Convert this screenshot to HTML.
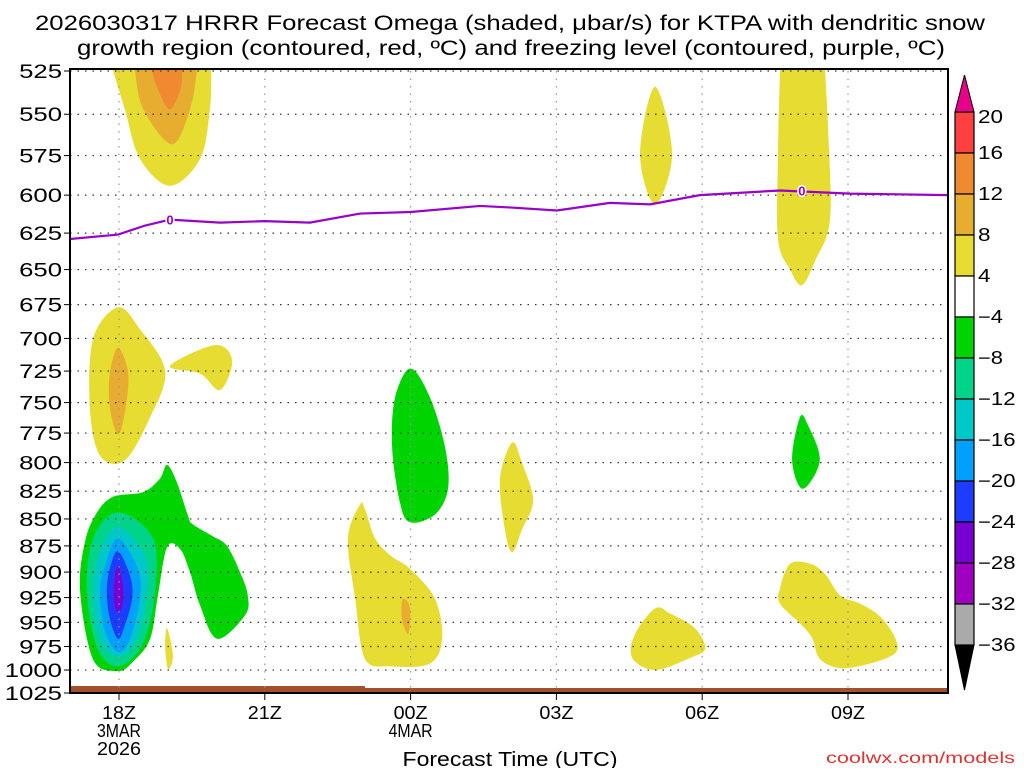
<!DOCTYPE html>
<html><head><meta charset="utf-8"><style>
html,body{margin:0;padding:0;background:#fff;}
svg text{font-family:"Liberation Sans",sans-serif;}
</style></head><body>
<svg id="chart" width="1024" height="768" xmlns="http://www.w3.org/2000/svg">
<text x="510" y="30" font-size="21" text-anchor="middle" textLength="950" lengthAdjust="spacingAndGlyphs" fill="#000">2026030317 HRRR Forecast Omega (shaded, μbar/s) for KTPA with dendritic snow</text>
<text x="511" y="55" font-size="21" text-anchor="middle" textLength="868" lengthAdjust="spacingAndGlyphs" fill="#000">growth region (contoured, red, ºC) and freezing level (contoured, purple, ºC)</text>
<defs><clipPath id="plotclip"><rect x="70" y="69" width="878" height="624"/></clipPath></defs>
<g id="fills" clip-path="url(#plotclip)"></g>
<g id="grid"></g>
<g id="fz" clip-path="url(#plotclip)"></g>
<rect x="70" y="69" width="878" height="624" fill="none" stroke="#000" stroke-width="2"/>
<g id="axes"></g>
<g id="cbar"></g>
<text x="510" y="766" font-size="20" text-anchor="middle" textLength="215" lengthAdjust="spacingAndGlyphs">Forecast Time (UTC)</text>
<text x="1015" y="763" font-size="16" text-anchor="end" textLength="189" lengthAdjust="spacingAndGlyphs" fill="#e03030">coolwx.com/models</text>
</svg>
<script>
const pLevels=[525,550,575,600,625,650,675,700,725,750,775,800,825,850,875,900,925,950,975,1000,1025];
const xTickHours=[18,21,24,27,30,33];
const xTickLabels=["18Z","21Z","00Z","03Z","06Z","09Z"];
const cbLevels=[20,16,12,8,4,-4,-8,-12,-16,-20,-24,-28,-32,-36];
const cbColors=["#ff4040","#f08a30","#e6ad30","#e6dc32","#ffffff","#00d400","#00d48a","#00c8c8","#00a0ff","#1e3cff","#7800d2","#a000c0","#aaaaaa"];
const freezeHours=[16.99,17.98,18.53,19.05,20.08,21.0,21.93,22.96,24.0,25.43,26.04,27.01,28.1,28.93,29.95,31.6,33.04,35.06];
const freezeP=[629,626,620,616,618,617,618,612,611,607,608,610,605,606,600,597,599,600];
const blobs=[
{c:"#e6dc32",pts:[[17.8,515],[17.88,525],[18.12,547],[18.43,577],[19.05,594],[19.67,577],[19.87,547],[19.9,525],[19.9,515]]},
{c:"#e6ad30",pts:[[18.3,515],[18.33,525],[18.5,547],[19.09,568],[19.46,547],[19.6,525],[19.6,515]]},
{c:"#f08a30",pts:[[18.64,515],[18.68,525],[18.84,538],[19.05,547],[19.26,536],[19.3,525],[19.3,515]]},
{c:"#e6dc32",pts:[[29.03,534],[28.72,574],[29.03,606],[29.38,574]]},
{c:"#e6dc32",pts:[[31.6,515],[31.6,525],[31.56,573],[31.56,629],[31.81,650],[32.05,661],[32.32,644],[32.63,616],[32.59,559],[32.53,525],[32.53,515]]},
{c:"#e6dc32",pts:[[17.4,754],[17.47,700],[17.98,677],[18.43,693],[18.95,725],[18.64,762],[18.12,798],[17.61,794]]},
{c:"#e6ad30",pts:[[17.81,727],[17.98,707],[18.19,727],[18.12,758],[17.98,776],[17.81,754]]},
{c:"#e6dc32",pts:[[19.05,721],[19.98,705],[20.33,717],[20.08,740],[19.67,727]]},
{c:"#00d400",pts:[[17.98,1001],[17.47,989],[17.2,919],[17.3,871],[17.55,844],[17.88,830],[18.49,826],[18.84,814],[18.99,802],[19.19,817],[19.42,847],[19.52,855],[19.93,866],[20.22,875],[20.49,900],[20.65,923],[20.59,943],[20.02,967],[19.67,933],[19.46,900],[19.26,878],[18.99,876],[18.8,923],[18.64,967],[18.29,991]]},
{c:"#00d48a",pts:[[17.98,844],[18.7,868],[18.74,919],[18.49,972],[17.98,996],[17.55,976],[17.34,919],[17.47,868]]},
{c:"#00c8c8",pts:[[17.98,857],[18.53,884],[18.58,919],[18.37,967],[17.98,986],[17.61,967],[17.47,919],[17.61,880]]},
{c:"#00a0ff",pts:[[17.98,868],[18.39,897],[18.43,926],[18.23,967],[17.98,981],[17.71,959],[17.61,919],[17.71,894]]},
{c:"#1e3cff",pts:[[17.98,880],[18.23,904],[18.27,926],[18.12,953],[17.98,967],[17.81,946],[17.75,919],[17.81,897]]},
{c:"#7800d2",pts:[[17.98,894],[18.08,913],[18.08,930],[17.98,940],[17.9,930],[17.9,910]]},
{c:"#e6dc32",pts:[[18.99,956],[19.11,985],[19.01,999],[18.95,974]]},
{c:"#00d400",pts:[[24.0,723],[23.68,746],[23.62,787],[23.78,835],[23.99,853],[24.5,846],[24.77,823],[24.71,787],[24.4,746]]},
{c:"#e6dc32",pts:[[22.96,837],[22.71,868],[22.86,926],[23.06,988],[23.58,996],[24.4,993],[24.65,966],[24.5,926],[23.99,897],[23.58,884],[23.27,868],[23.06,841]]},
{c:"#e6ad30",pts:[[23.84,926],[23.99,936],[23.95,962],[23.82,946]]},
{c:"#e6dc32",pts:[[26.09,783],[25.84,814],[25.94,860],[26.09,881],[26.29,860],[26.52,833],[26.29,800]]},
{c:"#e6dc32",pts:[[29.03,936],[28.62,962],[28.56,987],[29.03,1000],[29.75,987],[30.06,977],[29.85,956],[29.34,941]]},
{c:"#00d400",pts:[[32.01,762],[31.85,798],[32.07,823],[32.42,798],[32.17,768]]},
{c:"#e6dc32",pts:[[31.81,892],[31.6,916],[31.6,931],[32.01,951],[32.26,966],[32.42,988],[32.84,998],[33.45,993],[33.97,982],[33.97,966],[33.66,944],[33.25,931],[32.84,923],[32.53,902],[32.22,892]]}
];
const NS="http://www.w3.org/2000/svg";
const X0=70,X1=948,Y0=71,Y1=693;
function xs(h){return 119+(h-18)*48.6;}
function ys(p){return Y0+(Math.log(p)-Math.log(525))/(Math.log(1025)-Math.log(525))*(Y1-Y0);}
function mk(t,a,parent){const e=document.createElementNS(NS,t);for(const k in a)e.setAttribute(k,a[k]);parent.appendChild(e);return e;}
function smooth(P){let d="";const n=P.length;for(let i=0;i<n;i++){const p0=P[(i-1+n)%n],p1=P[i],p2=P[(i+1)%n],p3=P[(i+2)%n];if(i===0)d+="M"+p1[0]+","+p1[1];const c1=[p1[0]+(p2[0]-p0[0])/6,p1[1]+(p2[1]-p0[1])/6],c2=[p2[0]-(p3[0]-p1[0])/6,p2[1]-(p3[1]-p1[1])/6];d+="C"+c1[0].toFixed(1)+","+c1[1].toFixed(1)+" "+c2[0].toFixed(1)+","+c2[1].toFixed(1)+" "+p2[0].toFixed(1)+","+p2[1].toFixed(1);}return d+"Z";}
const fills=document.getElementById('fills');
blobs.forEach((b,i)=>{const P=b.pts.map(q=>[xs(q[0]),ys(q[1])]);const e=mk('path',{d:smooth(P),fill:b.c},fills);

});
const t1=mk('rect',{x:70,y:686,width:295,height:7,fill:'#a0522d'},fills);


const t2=mk('rect',{x:70,y:688,width:878,height:5,fill:'#a0522d'},fills);


const grid=document.getElementById('grid'),axes=document.getElementById('axes');
pLevels.forEach(p=>{const y=ys(p);
const g=mk('line',{x1:X0,x2:X1,y1:y,y2:y,stroke:'#333','stroke-width':1.2,'stroke-dasharray':'1.5 6'},grid);


mk('line',{x1:X0-6,x2:X0,y1:y,y2:y,stroke:'#000'},axes);
const s=String(p);
const t=mk('text',{x:X0-8,y:y+7,'font-size':19,'text-anchor':'end',textLength:s.length*14.3,lengthAdjust:'spacingAndGlyphs'},axes);t.textContent=s;

});
xTickHours.forEach((h,i)=>{const x=xs(h);
const g=mk('line',{x1:x,x2:x,y1:Y0,y2:Y1,stroke:'#999','stroke-width':1.2,'stroke-dasharray':'1.5 6'},grid);


mk('line',{x1:x,x2:x,y1:Y1,y2:Y1+7,stroke:'#000'},axes);
const t=mk('text',{x:x,y:719,'font-size':18,'text-anchor':'middle',textLength:34,lengthAdjust:'spacingAndGlyphs'},axes);t.textContent=xTickLabels[i];

});
[["3MAR",18,737],["2026",18,755],["4MAR",24,737]].forEach(a=>{const t=mk('text',{x:xs(a[1]),y:a[2],'font-size':18,'text-anchor':'middle',textLength:44,lengthAdjust:'spacingAndGlyphs'},axes);t.textContent=a[0];

});
const fz=document.getElementById('fz');
const fl=mk('polyline',{points:freezeHours.map((h,i)=>xs(h)+","+ys(freezeP[i])).join(" "),fill:'none',stroke:'#9900cc','stroke-width':2.2},fz);


[[19.05,616],[32.05,597]].forEach(a=>{const t=mk('text',{x:xs(a[0]),y:ys(a[1])+5,'font-size':13,'font-weight':'bold','text-anchor':'middle',fill:'#9900cc',stroke:'#fff','stroke-width':3,'paint-order':'stroke'},fz);t.textContent="0";

});
const cb=document.getElementById('cbar');const CX=955,CW=19,CT=112,CH=41;
const tp=mk('polygon',{points:`${CX},${CT} ${CX+CW},${CT} ${CX+CW/2},${CT-37}`,fill:'#e8008a',stroke:'#000'},cb);


cbColors.forEach((c,i)=>{const r=mk('rect',{x:CX,y:CT+i*CH,width:CW,height:CH,fill:c,stroke:'#000','stroke-width':1.2},cb);

});
const bt=CT+cbColors.length*CH;
const bp=mk('polygon',{points:`${CX},${bt} ${CX+CW},${bt} ${CX+CW/2},${bt+45}`,fill:'#000',stroke:'#000'},cb);


cbLevels.forEach((v,i)=>{const s=v<0?"\u2212"+(-v):String(v);const t=mk('text',{x:978,y:CT+i*CH+6+(i===0?5:0),'font-size':18,textLength:s.length*12.5,lengthAdjust:'spacingAndGlyphs'},cb);t.textContent=s;

});
</script>
</body></html>
